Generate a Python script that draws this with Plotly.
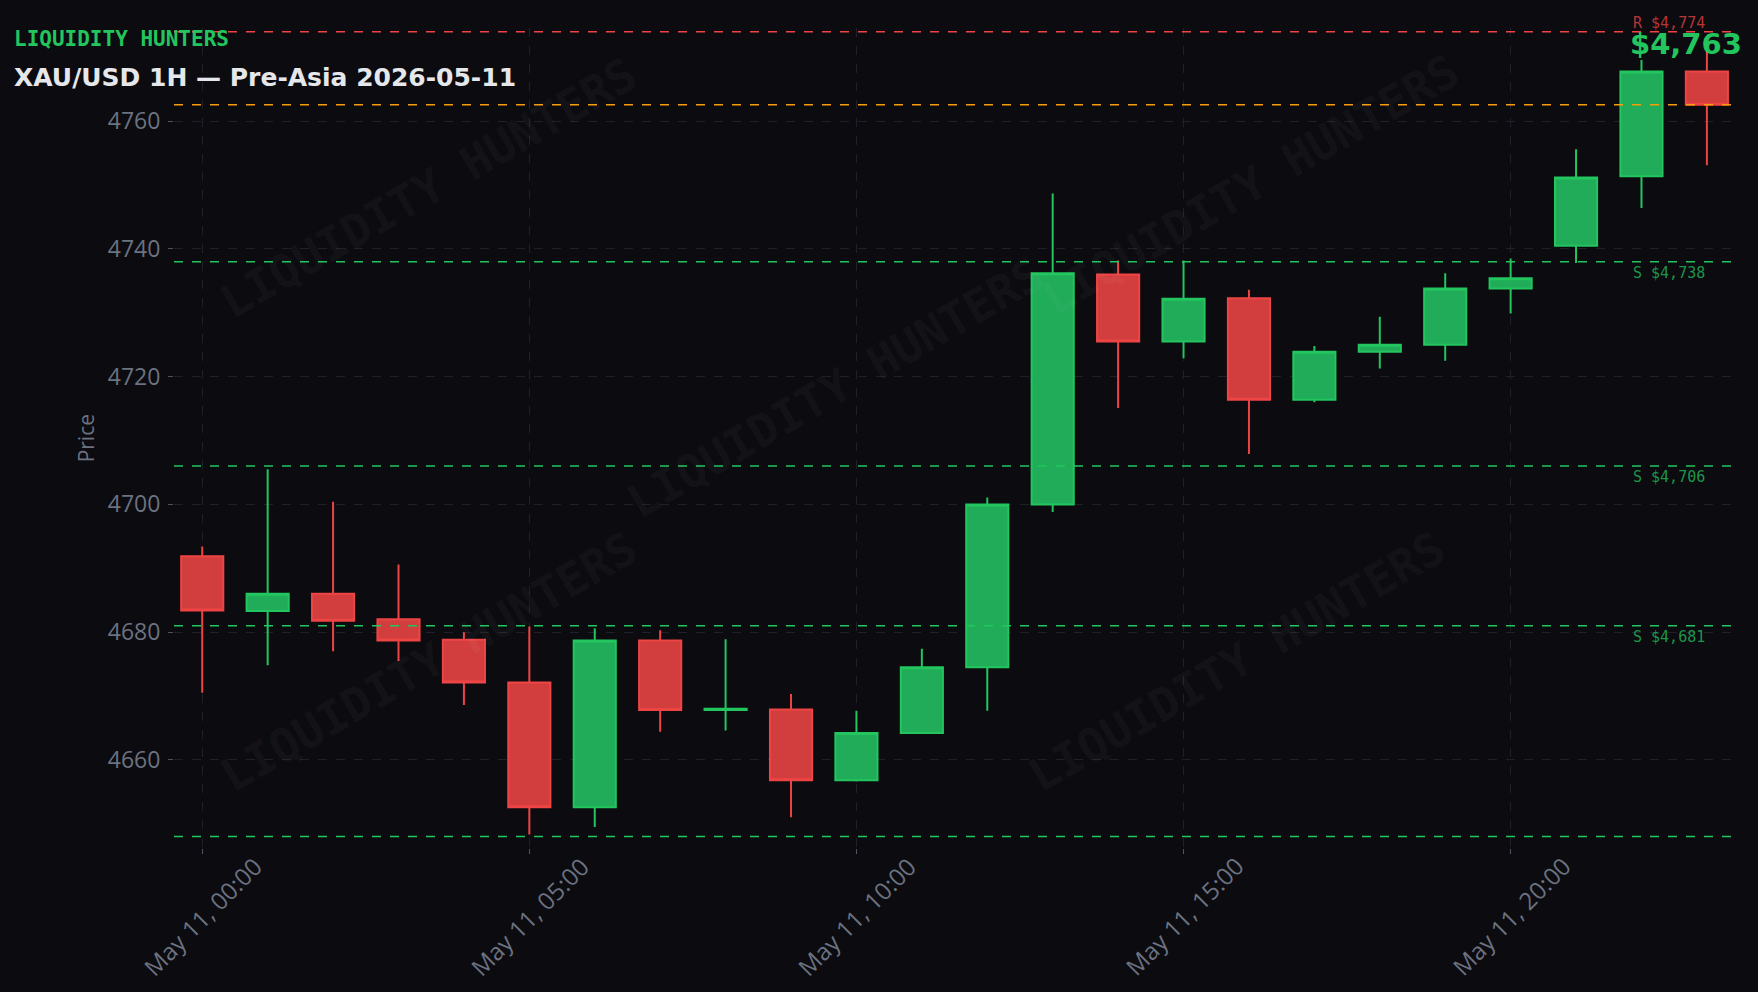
import pandas as pd
import plotly.graph_objects as go

# ---- data ----
times = pd.date_range("2026-05-11 00:00", periods=24, freq="h")
opens = [4691.9, 4683.3, 4686.0, 4682.0, 4678.8, 4672.1, 4652.6, 4678.7, 4667.8, 4667.9,
         4656.8, 4664.2, 4674.5, 4700.0, 4736.0, 4725.5, 4732.3, 4716.4, 4723.9, 4725.0,
         4733.8, 4740.5, 4751.4, 4767.8]
highs = [4693.4, 4705.5, 4700.4, 4690.6, 4680.0, 4680.9, 4680.6, 4680.3, 4678.9, 4670.3,
         4667.7, 4677.4, 4701.1, 4748.7, 4738.2, 4738.2, 4733.6, 4724.8, 4729.4, 4736.2,
         4738.5, 4755.6, 4769.6, 4772.0]
lows = [4670.5, 4674.8, 4677.0, 4675.5, 4668.6, 4648.3, 4649.5, 4664.4, 4664.6, 4651.0,
        4656.6, 4664.2, 4667.7, 4698.8, 4715.1, 4722.9, 4707.9, 4716.0, 4721.3, 4722.5,
        4729.9, 4737.8, 4746.4, 4753.1]
closes = [4683.4, 4686.0, 4681.8, 4678.7, 4672.1, 4652.6, 4678.7, 4667.8, 4668.0, 4656.8,
          4664.2, 4674.5, 4700.0, 4736.2, 4725.5, 4732.2, 4716.4, 4723.9, 4725.0, 4733.8,
          4735.4, 4751.2, 4767.8, 4762.6]

resistance_levels = [4774]
support_levels = [4738, 4706, 4681]
session_low = 4648
current_price = 4762.6
current_label = "$4,763"

brand = "LIQUIDITY HUNTERS"
title = "XAU/USD 1H — Pre-Asia 2026-05-11"
x_ticks = pd.date_range("2026-05-11 00:00", periods=5, freq="5h")

GREEN = "#22c55e"
RED = "#ef4444"
ORANGE = "#f59e0b"
BG = "#0b0b10"
GRID = "#1f2029"
TICK = "#6b7280"

fig = go.Figure()
fig.add_trace(go.Candlestick(
    x=times, open=opens, high=highs, low=lows, close=closes,
    increasing=dict(line=dict(color=GREEN, width=2), fillcolor="rgba(34,181,94,0.95)"),
    decreasing=dict(line=dict(color=RED, width=2), fillcolor="rgba(217,64,64,0.97)"),
    showlegend=False,
))

# level lines
for lv in resistance_levels:
    fig.add_shape(type="line", xref="paper", x0=0, x1=1, yref="y", y0=lv, y1=lv,
                  line=dict(color=RED, width=1.5, dash="dash"))
    fig.add_annotation(xref="paper", x=0.9325, yref="y", y=lv, xanchor="left", yanchor="bottom",
                       yshift=-2, text=f"R ${lv:,}", showarrow=False,
                       font=dict(family="DejaVu Sans Mono", size=15, color="rgba(239,68,68,0.75)"))
for lv in support_levels:
    fig.add_shape(type="line", xref="paper", x0=0, x1=1, yref="y", y0=lv, y1=lv,
                  line=dict(color=GREEN, width=1.5, dash="dash"))
    fig.add_annotation(xref="paper", x=0.9325, yref="y", y=lv, xanchor="left", yanchor="top",
                       text=f"S ${lv:,}", showarrow=False,
                       font=dict(family="DejaVu Sans Mono", size=15, color="rgba(34,197,94,0.75)"))
fig.add_shape(type="line", xref="paper", x0=0, x1=1, yref="y", y0=session_low, y1=session_low,
              line=dict(color=GREEN, width=1.5, dash="dash"))
fig.add_shape(type="line", xref="paper", x0=0, x1=1, yref="y", y0=current_price, y1=current_price,
              line=dict(color=ORANGE, width=1.5, dash="dash"))

# current price label
fig.add_annotation(xref="paper", x=0.931, yref="paper", y=0.981, xanchor="left", yanchor="middle",
                   text=current_label, showarrow=False,
                   font=dict(family="DejaVu Sans", size=29, color=GREEN, weight="bold"))

# watermarks
wm_pos = [(0.163, 0.805), (0.4234, 0.561), (0.689, 0.809), (0.163, 0.2274), (0.680, 0.2274)]
for px, py in wm_pos:
    fig.add_annotation(xref="paper", yref="paper", x=px, y=py, text=brand, showarrow=False,
                       textangle=-30, xanchor="center", yanchor="middle",
                       font=dict(family="DejaVu Sans Mono", size=46, color="rgba(255,255,255,0.05)",
                                 weight="bold"))

# brand + title
fig.add_annotation(xref="paper", yref="paper", x=-0.104, y=0.9866, xanchor="left", yanchor="middle",
                   text=brand, showarrow=False,
                   font=dict(family="DejaVu Sans Mono", size=21, color=GREEN, weight="bold"))
fig.add_annotation(xref="paper", yref="paper", x=-0.104, y=0.9396, xanchor="left", yanchor="middle",
                   text=title, showarrow=False,
                   font=dict(family="DejaVu Sans", size=25, color="#e5e7eb", weight="bold"))
# axis title
fig.add_annotation(xref="paper", yref="paper", x=-0.0561, y=0.5, xanchor="center", yanchor="middle",
                   text="Price", showarrow=False, textangle=-90,
                   font=dict(family="Open Sans", size=21, color=TICK))
# x tick labels (rotated about their centre)
for t in x_ticks:
    fig.add_annotation(xref="x", yref="paper", x=t, y=-0.083, xanchor="center", yanchor="middle",
                       text=t.strftime("%b %d, %H:%M"), showarrow=False, textangle=-45,
                       font=dict(family="Open Sans", size=24, color=TICK))

x0 = times[0] - pd.Timedelta(minutes=25.9)
x1 = times[-1] + pd.Timedelta(minutes=26.7)

fig.update_layout(
    width=1758, height=992,
    margin=dict(l=174, r=22, t=28, b=144),
    paper_bgcolor=BG, plot_bgcolor=BG,
    font=dict(family="Open Sans", color=TICK),
    boxgap=0.08,
    xaxis=dict(
        range=[x0, x1], rangeslider=dict(visible=False),
        tickmode="array", tickvals=list(x_ticks), showticklabels=False,
        showgrid=True, gridcolor=GRID, griddash="dash", gridwidth=1,
        ticks="outside", ticklen=5, tickcolor="#4b5563",
        zeroline=False, showline=False,
    ),
    yaxis=dict(
        range=[4646.2, 4774.6],
        tickmode="linear", tick0=4660, dtick=20,
        tickfont=dict(family="Open Sans", size=23, color=TICK),
        ticklabelstandoff=3,
        showgrid=True, gridcolor=GRID, griddash="dash", gridwidth=1,
        ticks="outside", ticklen=5, tickcolor="#4b5563",
        zeroline=False, showline=False,
    ),
)

fig.write_html("out.html", config={"displayModeBar": False},
               post_script="document.body.style.margin='0';document.body.style.background='#0b0b10';")
